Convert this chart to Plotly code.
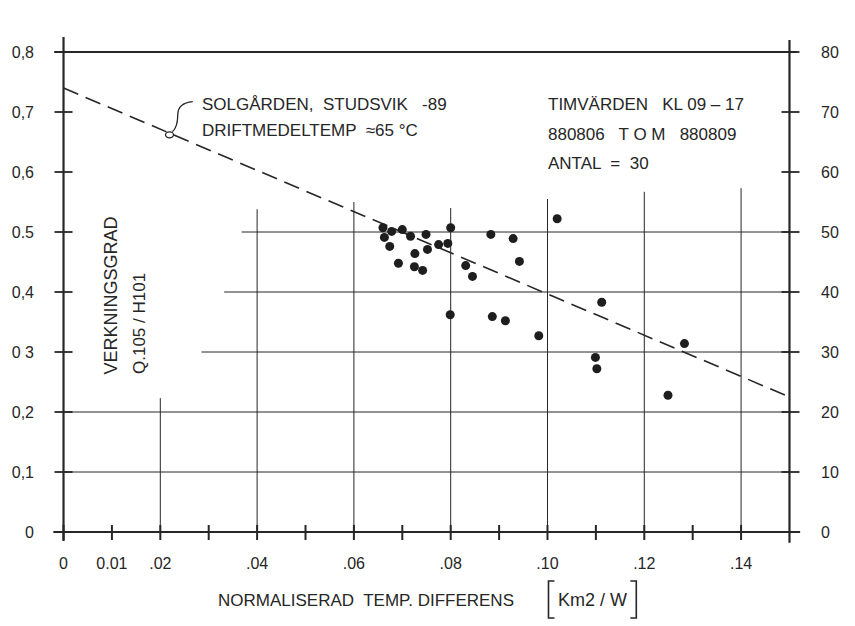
import plotly.graph_objects as go

# ---------------- data ----------------
temp_diff = [0.0660, 0.0663, 0.0678, 0.0674, 0.0700, 0.0717, 0.0692, 0.0726, 0.0725, 0.0742,
             0.0749, 0.0752, 0.0775, 0.0794, 0.0800, 0.0799, 0.0831, 0.0845, 0.0883, 0.0886,
             0.0929, 0.0942, 0.0913, 0.0982, 0.1020, 0.1112, 0.1099, 0.1102, 0.1283, 0.1249]
efficiency = [0.507, 0.491, 0.501, 0.476, 0.504, 0.493, 0.448, 0.464, 0.442, 0.436,
              0.496, 0.471, 0.479, 0.481, 0.507, 0.362, 0.444, 0.426, 0.496, 0.359,
              0.489, 0.451, 0.352, 0.327, 0.522, 0.383, 0.291, 0.272, 0.314, 0.228]

fit_x = [0.0, 0.15]
fit_y = [0.74, 0.225]

x_tick_vals = [0, 0.01, 0.02, 0.04, 0.06, 0.08, 0.10, 0.12, 0.14]
x_tick_text = ["0", "0.01", ".02", ".04", ".06", ".08", ".10", ".12", ".14"]
x_minor_ticks = [0, 0.01, 0.02, 0.03, 0.04, 0.05, 0.06, 0.07, 0.08, 0.09, 0.10, 0.11, 0.12, 0.13, 0.14]
y_tick_vals = [0, 0.1, 0.2, 0.3, 0.4, 0.5, 0.6, 0.7, 0.8]
y_tick_text = ["0", "0,1", "0,2", "0 3", "0,4", "0.5", "0,6", "0,7", "0,8"]
y2_tick_vals = [0, 10, 20, 30, 40, 50, 60, 70, 80]
y2_tick_text = ["0", "10", "20", "30", "40", "50", "60", "70", "80"]

# partial grid lines (as drawn on the sheet)
h_grid_y = [0.1, 0.2, 0.3, 0.4, 0.5]
h_grid_start = [0.0, 0.0, 0.0285, 0.0332, 0.0368]
v_grid_x = [0.02, 0.04, 0.06, 0.08, 0.10, 0.12, 0.14]
v_grid_top = [0.223, 0.538, 0.55, 0.54, 0.555, 0.567, 0.573]

# ---------------- style ----------------
INK = "#262626"
FONT = "Liberation Sans, Arial, sans-serif"
X_RANGE = [-0.003, 0.153]
Y_RANGE = [-0.03, 0.86]
PLOT_L, PLOT_R, PLOT_T, PLOT_B = 47.45, 804.05, 16, 550


def px_x(p):
    return (p - PLOT_L) / (PLOT_R - PLOT_L)


def px_y(p):
    return (PLOT_B - p) / (PLOT_B - PLOT_T)


fig = go.Figure()

fig.add_trace(go.Scatter(
    x=fit_x, y=fit_y, mode="lines",
    line=dict(color=INK, width=1.6, dash="16px,8px"),
    hoverinfo="skip", showlegend=False))

fig.add_trace(go.Scatter(
    x=temp_diff, y=efficiency, mode="markers",
    marker=dict(color="#1e1e1e", size=9, line=dict(width=0)),
    showlegend=False))

# invisible trace on right axis
fig.add_trace(go.Scatter(x=[0], y=[0], yaxis="y2", mode="markers",
                         marker=dict(opacity=0), hoverinfo="skip", showlegend=False))

shapes = []
# grid
for y0, xs in zip(h_grid_y, h_grid_start):
    shapes.append(dict(type="line", xref="x", yref="y", x0=xs, x1=0.15, y0=y0, y1=y0,
                       line=dict(color=INK, width=1), layer="below"))
for x0, yt in zip(v_grid_x, v_grid_top):
    shapes.append(dict(type="line", xref="x", yref="y", x0=x0, x1=x0, y0=0, y1=yt,
                       line=dict(color=INK, width=1), layer="below"))
# frame
shapes += [
    dict(type="line", xref="x", yref="y", x0=-0.0021, x1=0.1522, y0=0, y1=0,
         line=dict(color=INK, width=2.2)),
    dict(type="line", xref="x", yref="y", x0=-0.0019, x1=0.1515, y0=0.8, y1=0.8,
         line=dict(color=INK, width=1.8)),
    dict(type="line", xref="x", yref="y", x0=0, x1=0, y0=-0.015, y1=0.825,
         line=dict(color=INK, width=2.2)),
    dict(type="line", xref="x", yref="y", x0=0.15, x1=0.15, y0=-0.018, y1=0.82,
         line=dict(color=INK, width=2.2)),
]
# crossing ticks
for yv in y_tick_vals:
    shapes.append(dict(type="line", xref="x", yref="y", xsizemode="pixel", xanchor=0,
                       x0=-9, x1=9, y0=yv, y1=yv, line=dict(color=INK, width=1.8)))
    shapes.append(dict(type="line", xref="x", yref="y", xsizemode="pixel", xanchor=0.15,
                       x0=-8, x1=10, y0=yv, y1=yv, line=dict(color=INK, width=1.8)))
for xv in x_minor_ticks:
    shapes.append(dict(type="line", xref="x", yref="y", ysizemode="pixel", yanchor=0,
                       y0=-8, y1=7, x0=xv, x1=xv, line=dict(color=INK, width=2)))
# leader to the curve
shapes.append(dict(type="path", xref="x", yref="y",
                   path="M 0.0267,0.7172 Q 0.0236,0.7150 0.0236,0.695 Q 0.0236,0.675 0.0225,0.667",
                   line=dict(color=INK, width=1.3)))
shapes.append(dict(type="circle", xref="x", yref="y", xsizemode="pixel", ysizemode="pixel",
                   xanchor=0.0219, yanchor=0.662, x0=-4, x1=4, y0=-3, y1=3,
                   line=dict(color=INK, width=1.3)))
# brackets around the unit
for bx, sgn in ((548, 1), (636, -1)):
    shapes.append(dict(type="path", xref="paper", yref="paper",
                       path=f"M {px_x(bx + 6 * sgn)},{px_y(581)} L {px_x(bx)},{px_y(581)} "
                            f"L {px_x(bx)},{px_y(618)} L {px_x(bx + 6 * sgn)},{px_y(618)}",
                       line=dict(color=INK, width=1.6)))

ann_font = dict(family=FONT, size=17, color=INK)
annotations = [
    dict(x=0.02825, y=0.7133, text="SOLGÅRDEN,  STUDSVIK   -89", xanchor="left"),
    dict(x=0.02825, y=0.670, text="DRIFTMEDELTEMP  ≈65 °C", xanchor="left"),
    dict(x=0.0996, y=0.7117, text="TIMVÄRDEN   KL 09 – 17", xanchor="left"),
    dict(x=0.0996, y=0.6633, text="880806   T O M   880809", xanchor="left"),
    dict(x=0.0996, y=0.615, text="ANTAL  =  30", xanchor="left"),
    dict(x=0.0099, y=0.26, text="VERKNINGSGRAD", textangle=-90, yanchor="bottom",
         font=dict(family=FONT, size=18, color=INK)),
    dict(x=0.0157, y=0.26, text="Q.105 / H101", textangle=-90, yanchor="bottom"),
    dict(x=0.158, y=0.848, text="η %"),
]
ann_list = []
for a in annotations:
    d = dict(xref="x", yref="y", showarrow=False, font=ann_font)
    d.update(a)
    ann_list.append(d)
# axis title
ann_list.append(dict(xref="paper", yref="paper", x=px_x(215), y=px_y(600),
                     text="NORMALISERAD  TEMP. DIFFERENS", xanchor="left", yanchor="middle",
                     showarrow=False, font=dict(family=FONT, size=17, color=INK)))
ann_list.append(dict(xref="paper", yref="paper", x=px_x(592), y=px_y(600),
                     text="Km2 / W", xanchor="center", yanchor="middle",
                     showarrow=False, font=dict(family=FONT, size=18, color=INK)))

tick_font = dict(family=FONT, size=16, color=INK)
fig.update_layout(
    width=855, height=626,
    margin=dict(l=PLOT_L, r=855 - PLOT_R, t=PLOT_T, b=626 - PLOT_B),
    paper_bgcolor="white", plot_bgcolor="white",
    showlegend=False,
    xaxis=dict(range=X_RANGE, tickvals=x_tick_vals, ticktext=x_tick_text,
               showgrid=False, zeroline=False, showline=False, ticks="",
               tickfont=tick_font, ticklabelstandoff=2),
    yaxis=dict(range=Y_RANGE, tickvals=y_tick_vals, ticktext=y_tick_text,
               showgrid=False, zeroline=False, showline=False, ticks="",
               tickfont=tick_font, ticklabelstandoff=14),
    yaxis2=dict(range=[Y_RANGE[0] * 100, Y_RANGE[1] * 100], overlaying="y", side="right",
                tickvals=y2_tick_vals, ticktext=y2_tick_text,
                showgrid=False, zeroline=False, showline=False, ticks="",
                tickfont=tick_font, ticklabelstandoff=16),
    shapes=shapes,
    annotations=ann_list,
)

fig.write_html("out.html")
